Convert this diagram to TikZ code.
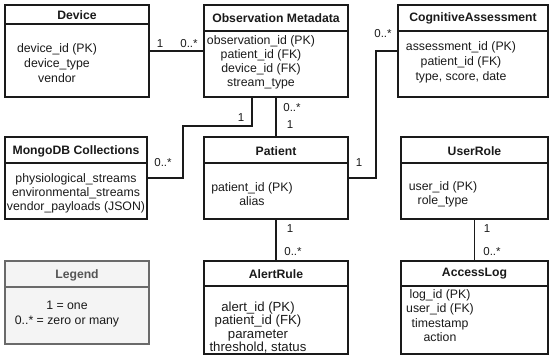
\documentclass[tikz,border=0pt]{standalone}
\usepackage{fontspec}
\setmainfont{Liberation Sans}
\usetikzlibrary{positioning}
\definecolor{legendline}{HTML}{6A6A6A}
\definecolor{legendfill}{HTML}{F4F4F4}
\definecolor{legendtext}{HTML}{555555}
\definecolor{ink}{HTML}{1A1A1A}

\tikzset{
  entbox/.style={draw=ink,line width=1.6pt,outer sep=0pt,inner sep=0pt},
  enttitle/.style={text=ink,font=\fontsize{12.2}{14}\selectfont\bfseries,inner sep=0pt},
  entbody/.style={text=ink,font=\fontsize{12.3}{14}\selectfont,align=center,inner sep=0pt},
  conn/.style={draw=ink,line width=1.6pt},
  mult/.style={text=ink,font=\fontsize{11.5}{13}\selectfont,inner sep=0pt},
}

\begin{document}
\begin{tikzpicture}[x=1pt,y=-1pt]
\useasboundingbox (0,0) rectangle (550,357);
% top row
\node[entbox,minimum width=144,minimum height=92] (device) at (77,51) {};
\draw[conn] (device.north west) ++(0,19) -- ++(144,0);
\node[enttitle] (devicetitle) at (77,15) {Device};
\node[entbody,font=\fontsize{12.3}{15}\selectfont] (devicebody) at (57,63) {device\_id (PK)\\device\_type\\vendor};

\node[entbox,minimum width=144,minimum height=92] (obs) at (276,51) {};
\draw[conn] (obs.north west) ++(0,26) -- ++(144,0);
\node[enttitle] (obstitle) at (276,18) {Observation Metadata};
\node[entbody] (obsbody) at (261,62) {observation\_id (PK)\\patient\_id (FK)\\device\_id (FK)\\stream\_type};

\node[entbox,minimum width=150,minimum height=92] (cog) at (473,51) {};
\draw[conn] (cog.north west) ++(0,26) -- ++(150,0);
\node[enttitle] (cogtitle) at (473,18) {CognitiveAssessment};
\node[entbody,font=\fontsize{12.3}{15}\selectfont] (cogbody) at (461,62) {assessment\_id (PK)\\patient\_id (FK)\\type, score, date};

% middle row
\node[entbox,minimum width=142,minimum height=82] (mongo) at (76,178) {};
\draw[conn] (mongo.north west) ++(0,26) -- ++(142,0);
\node[enttitle] (mongotitle) at (76,151) {MongoDB Collections};
\node[entbody] (mongobody) at (76,193) {physiological\_streams\\environmental\_streams\\vendor\_payloads (JSON)};

\node[entbox,minimum width=144,minimum height=82] (patient) at (276,178) {};
\draw[conn] (patient.north west) ++(0,26) -- ++(144,0);
\node[enttitle] (patienttitle) at (276,151) {Patient};
\node[entbody] (patientbody) at (252,194) {patient\_id (PK)\\alias};

\node[entbox,minimum width=147,minimum height=82] (userrole) at (474.5,178) {};
\draw[conn] (userrole.north west) ++(0,26) -- ++(147,0);
\node[enttitle] (userroletitle) at (474.5,151) {UserRole};
\node[entbody] (userrolebody) at (443,194) {user\_id (PK)\\role\_type};

% bottom row
\node[entbox,draw=legendline,fill=legendfill,minimum width=144,minimum height=83] (legend) at (77,302.5) {};
\draw[conn,draw=legendline] (legend.north west) ++(0,26) -- ++(144,0);
\node[enttitle,text=legendtext] (legendtitle) at (77,275) {Legend};
\node[entbody,font=\fontsize{12.3}{15}\selectfont] (legendbody) at (67,314) {1 = one\\0..* = zero or many};

\node[entbox,minimum width=144,minimum height=93] (alert) at (276,307.5) {};
\draw[conn] (alert.north west) ++(0,25) -- ++(144,0);
\node[enttitle] (alerttitle) at (276,274) {AlertRule};
\node[entbody,font=\fontsize{13.2}{13.6}\selectfont] (alertbody) at (258,327.5) {alert\_id (PK)\\patient\_id (FK)\\parameter\\threshold, status};

\node[entbox,minimum width=147,minimum height=93] (accesslog) at (474.5,307.5) {};
\draw[conn] (accesslog.north west) ++(0,25) -- ++(147,0);
\node[enttitle] (accesslogtitle) at (474.5,274) {AccessLog};
\node[entbody,font=\fontsize{12.3}{14.6}\selectfont] (accesslogbody) at (440,315.5) {log\_id (PK)\\user\_id (FK)\\timestamp\\action};

% connectors
\draw[conn] (device) -- (obs);
\node[mult] (m1) at (160,44) {1};
\node[mult] (m2) at (189,44) {0..*};
\draw[conn] ([xshift=-24pt]obs.south) -- ++(0,29) -| ++(-69,52) -- (mongo.east);
\node[mult] (m3) at (241,118) {1};
\node[mult] (m4) at (163,163) {0..*};
\draw[conn] (obs) -- (patient);
\node[mult] (m5) at (292,108) {0..*};
\node[mult] (m6) at (290,125) {1};
\draw[conn] (cog.west) -- ++(-22,0) |- (patient.east);
\node[mult] (m7) at (383,34) {0..*};
\node[mult] (m8) at (359,163) {1};
\draw[conn] (patient) -- (alert);
\node[mult] (m9) at (290,229) {1};
\node[mult] (m10) at (293,252) {0..*};
\draw[conn] (userrole) -- (accesslog);
\node[mult] (m11) at (487,229) {1};
\node[mult] (m12) at (492,252) {0..*};
\end{tikzpicture}
\end{document}
